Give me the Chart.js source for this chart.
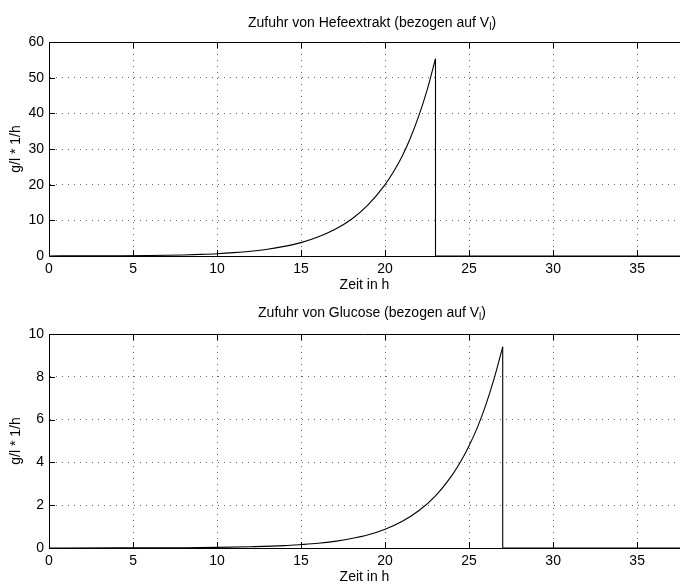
<!DOCTYPE html>
<html>
<head>
<meta charset="utf-8">
<script src="https://cdn.jsdelivr.net/npm/chart.js@4.4.0/dist/chart.umd.min.js"></script>
<style>
    body { margin: 0; background: #fff; }
    .box { position: absolute; left: 0; width: 680px; height: 294px; }
</style>
</head>
<body>
<div class="box" style="top:0"><canvas id="hefe" width="680" height="294"></canvas></div>
<div class="box" style="top:294px"><canvas id="gluc" width="680" height="294"></canvas></div>
<script>
// feed rates (g/l * 1/h over time in h)
const hefeTime = [0, 2, 4, 6, 8, 9, 10, 11, 12, 13, 14, 15, 16, 17, 18, 19, 20, 20.5, 21, 21.5, 22, 22.5, 23];
const hefeFeed = [0.02, 0.04, 0.08, 0.15, 0.3, 0.45, 0.65, 0.95, 1.35, 1.9, 2.7, 3.75, 5.3, 7.4, 10.3, 14.4, 20.0, 23.6, 27.8, 33.0, 39.2, 46.5, 55.3];

const glucTime = [0, 4, 8, 10, 12, 14, 15, 16, 17, 18, 19, 20, 21, 22, 23, 24, 24.5, 25, 25.5, 26, 26.5, 27];
const glucFeed = [0.001, 0.004, 0.014, 0.03, 0.06, 0.11, 0.16, 0.22, 0.31, 0.44, 0.62, 0.88, 1.24, 1.74, 2.44, 3.42, 4.04, 4.78, 5.65, 6.7, 7.95, 9.4];

const xEnd = 37.55;
const FONT = '"Liberation Sans", Arial, Helvetica, sans-serif';
const FSIZE = 14;

// box top line, inward tick marks and title with subscript
const frame = {
    id: 'frame',
    afterDraw(chart, args, opts) {
        const {ctx, chartArea: a, scales: {x, y}} = chart;
        ctx.save();
        ctx.strokeStyle = '#000';
        ctx.lineWidth = 1;
        ctx.beginPath();
        ctx.moveTo(a.left, a.top + 0.5);
        ctx.lineTo(a.right, a.top + 0.5);
        x.ticks.forEach(t => {
            const px = Math.round(x.getPixelForValue(t.value)) + 0.5;
            ctx.moveTo(px, a.bottom); ctx.lineTo(px, a.bottom - 6);
            ctx.moveTo(px, a.top); ctx.lineTo(px, a.top + 6);
        });
        y.ticks.forEach(t => {
            const py = Math.round(y.getPixelForValue(t.value)) + 0.5;
            ctx.moveTo(a.left, py); ctx.lineTo(a.left + 6, py);
        });
        ctx.stroke();

        ctx.fillStyle = '#000';
        ctx.textBaseline = 'alphabetic';
        ctx.textAlign = 'left';
        const big = FSIZE + 'px ' + FONT, small = '10px ' + FONT;
        ctx.font = big;
        const w1 = ctx.measureText(opts.text).width;
        const w3 = ctx.measureText(')').width;
        ctx.font = small;
        const w2 = ctx.measureText('l').width;
        let cx = opts.cx - (w1 + w2 + w3) / 2;
        ctx.font = big;
        ctx.fillText(opts.text, cx, opts.base);
        ctx.font = small;
        ctx.fillText('l', cx + w1, opts.base + 3);
        ctx.font = big;
        ctx.fillText(')', cx + w1 + w2, opts.base);
        ctx.restore();
    }
};

function makeChart(id, time, feed, yMax, yStep, title, padTop, xHeight, xTitlePad, titleBase) {
    const curve = time.map((t, i) => ({x: t, y: feed[i]}));
    const last = time.length - 1;
    const drop = [
        {x: time[last], y: feed[last]},
        {x: time[last], y: 0},
        {x: xEnd, y: 0}
    ];
    return new Chart(document.getElementById(id), {
        type: 'line',
        data: {
            datasets: [{
                data: curve,
                borderColor: '#000',
                borderWidth: 1.1,
                pointRadius: 0,
                cubicInterpolationMode: 'monotone',
                fill: false
            }, {
                data: drop,
                borderColor: '#000',
                borderWidth: 1.1,
                pointRadius: 0,
                tension: 0,
                fill: false
            }]
        },
        options: {
            responsive: false,
            animation: false,
            devicePixelRatio: 1,
            layout: {padding: {top: padTop, left: 0, right: 0, bottom: 0}},
            plugins: {
                legend: {display: false},
                tooltip: {enabled: false},
                frame: {text: title, cx: 372, base: titleBase}
            },
            scales: {
                x: {
                    type: 'linear',
                    min: 0,
                    max: xEnd,
                    afterFit: s => { s.height = xHeight; },
                    ticks: {stepSize: 5, includeBounds: false, autoSkip: false, color: '#000', padding: 5, maxRotation: 0, font: {family: FONT, size: FSIZE}},
                    grid: {color: 'rgba(0,0,0,0.6)', drawTicks: false},
                    border: {color: '#000', width: 1, dash: [1, 5]},
                    title: {display: true, text: 'Zeit in h', color: '#000', padding: {top: 0, bottom: xTitlePad}, font: {family: FONT, size: FSIZE}}
                },
                y: {
                    min: 0,
                    max: yMax,
                    afterFit: s => { s.width = 49; },
                    ticks: {stepSize: yStep, color: '#000', padding: 5, font: {family: FONT, size: FSIZE}},
                    grid: {color: 'rgba(0,0,0,0.6)', drawTicks: false},
                    border: {color: '#000', width: 1, dash: [1, 5]},
                    title: {display: true, text: 'g/l * 1/h', color: '#000', padding: {top: 8, bottom: 0}, font: {family: FONT, size: FSIZE}}
                }
            }
        },
        plugins: [frame]
    });
}

makeChart('hefe', hefeTime, hefeFeed, 60, 10, 'Zufuhr von Hefeextrakt (bezogen auf V', 42, 38, 0, 27);
makeChart('gluc', glucTime, glucFeed, 10, 2, 'Zufuhr von Glucose (bezogen auf V', 40, 40, 2, 23);
</script>
</body>
</html>
